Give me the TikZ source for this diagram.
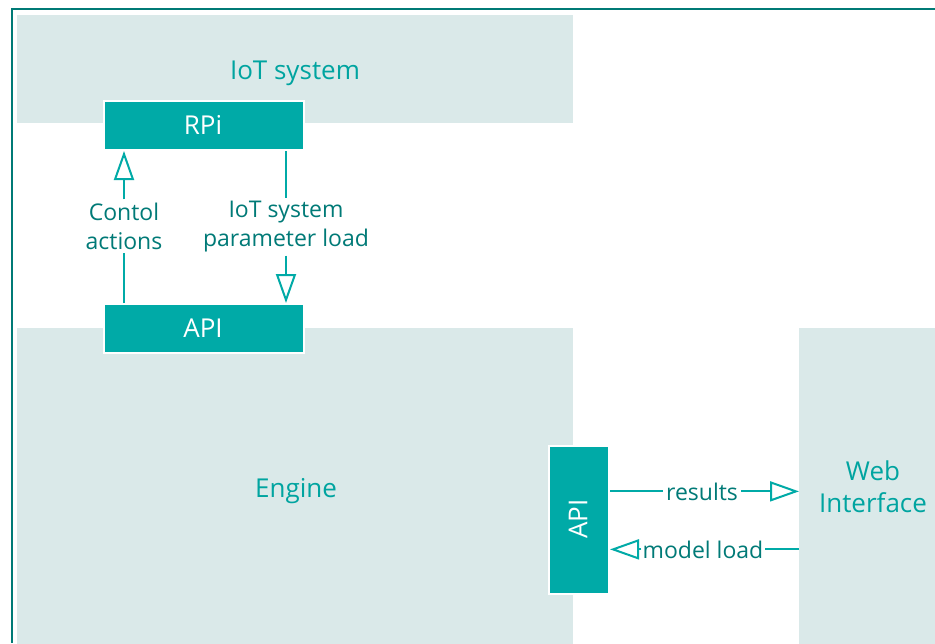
\documentclass[tikz,border=0pt]{standalone}
\usepackage{fontspec}
\setmainfont{Open Sans}
\usetikzlibrary{arrows.meta}
\definecolor{teal}{RGB}{0,170,167}
\definecolor{labelteal}{RGB}{0,122,119}
\definecolor{areateal}{RGB}{0,164,160}
\definecolor{areafill}{RGB}{218,233,233}
\definecolor{frameteal}{RGB}{0,122,118}
\tikzset{
  area/.style={fill=areafill, draw=none, inner sep=0pt, anchor=north west},
  areatext/.style={text=areateal, font=\fontsize{26}{32}\selectfont, align=center, inner sep=0pt},
  block/.style={fill=teal, draw=white, line width=2pt, inner sep=0pt, anchor=north west},
  blocktext/.style={text=white, font=\fontsize{26}{30}\selectfont, inner sep=0pt},
  flowtext/.style={text=labelteal, font=\fontsize{23}{29}\selectfont, align=center, inner sep=0pt},
  conn/.style={draw=teal, line width=2pt},
  tip/.style={conn, -{Triangle[length=29pt, width=20pt, fill=white]}},
}
\begin{document}
\begin{tikzpicture}[x=1pt, y=-1pt]
\useasboundingbox (0,0) rectangle (935,643);
\fill[white] (0,0) rectangle (935,643);
% outer frame
\draw[frameteal, line width=2pt] (935,9) -- (12,9) -- (12,643);

% background areas
\node[area, minimum width=556pt, minimum height=108pt] (iot) at (17,15) {};
\node[area, minimum width=556pt, minimum height=316pt] (engine) at (17,328) {};
\node[area, minimum width=137pt, minimum height=316pt] (web) at (799,328) {};

\node[areatext, anchor=base] (iotlbl) at (295,79) {IoT system};
\node[areatext, anchor=base] (enginelbl) at (296,497) {Engine};
\node[areatext] (weblbl) at (873,487) {Web\\Interface};

% blocks
\node[block, minimum width=200pt, minimum height=49pt] (rpi) at (103,100) {};
\node[blocktext, anchor=base] at (203,134) {RPi};
\node[block, minimum width=200pt, minimum height=49pt] (apitop) at (103,303) {};
\node[blocktext, anchor=base] at (203,337) {API};
\node[block, minimum width=60pt, minimum height=148pt] (apiside) at (548,445) {};
\node[blocktext, rotate=90] at (578,519) {API};

% flow labels
\node[flowtext, inner ysep=3pt] (ctl) at (124,226) {Contol\\actions};
\node[flowtext, inner ysep=3pt] (par) at (286,227) {IoT system\\parameter load};
\node[flowtext, inner xsep=3pt, anchor=base] (res) at (702,500) {results};
\node[flowtext, inner xsep=1pt, anchor=base] (mdl) at (703,558) {model load};

% connectors
\draw[conn] (apitop.north -| ctl.south) -- (ctl.south);
\draw[tip] (ctl.north) -- (ctl.north |- rpi.south);
\draw[conn] (rpi.south -| par.north) -- (par.north);
\draw[tip] (par.south) -- (par.south |- apitop.north);
\draw[conn] (apiside.east |- res.east) -- (res.west);
\draw[tip] (res.east) -- (res.east -| web.west);
\draw[conn] (web.west |- mdl.west) -- (mdl.east);
\draw[tip] (mdl.west) -- (mdl.west -| apiside.east);
\end{tikzpicture}
\end{document}
